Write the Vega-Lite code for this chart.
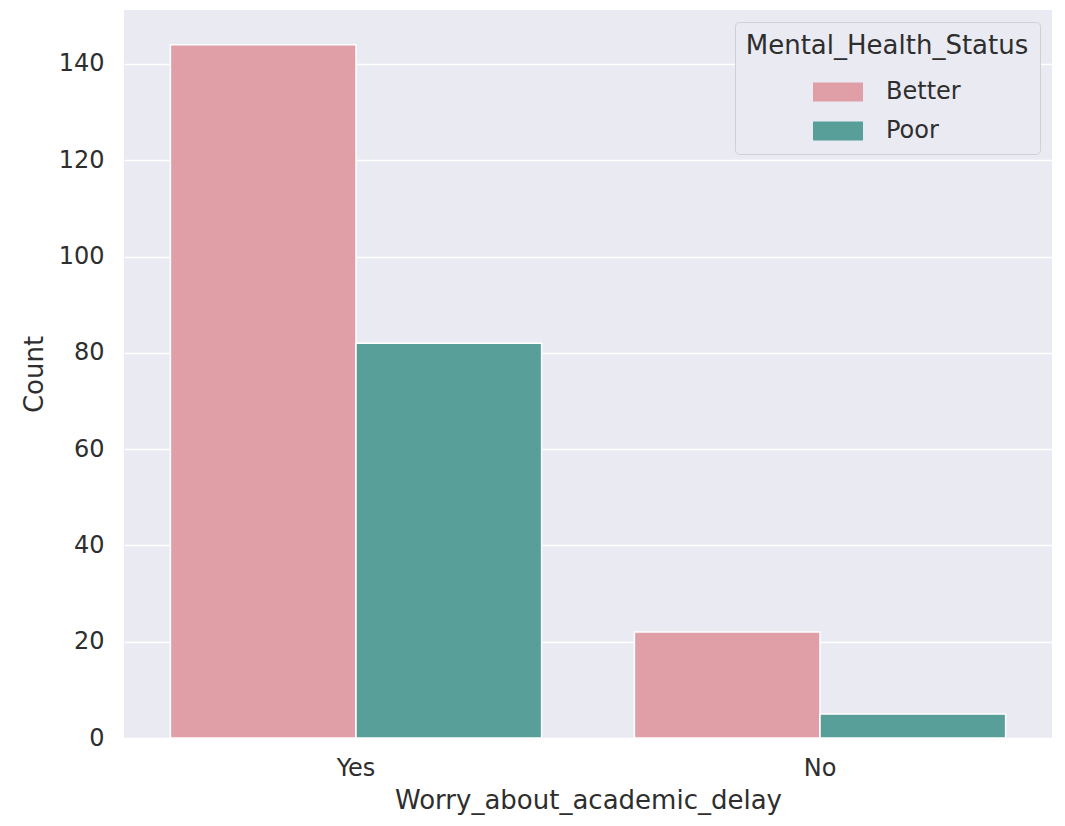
{
  "$schema": "https://vega.github.io/schema/vega-lite/v6.json",
  "width": 928,
  "height": 728,
  "autosize": {"type": "none"},
  "padding": {"left": 124, "top": 10, "right": 13, "bottom": 88},
  "background": "white",
  "config": {
    "font": "DejaVu Sans",
    "view": {"fill": "#EAEAF2", "stroke": null},
    "axis": {"domain": false, "ticks": false, "gridColor": "white", "gridWidth": 1.5, "labelColor": "#2E2E2E", "titleColor": "#2E2E2E", "labelFont": "DejaVu Sans", "titleFont": "DejaVu Sans", "titleFontWeight": "normal", "labelFontSize": 24, "titleFontSize": 26}
  },
  "data": {
    "values": [
      {"worry": "Yes", "status": "Better", "count": 144},
      {"worry": "Yes", "status": "Poor", "count": 82},
      {"worry": "No", "status": "Better", "count": 22},
      {"worry": "No", "status": "Poor", "count": 5}
    ]
  },
  "mark": {"type": "bar", "stroke": "white", "strokeWidth": 1.5},
  "encoding": {
    "x": {
      "field": "worry", "type": "nominal", "sort": ["Yes", "No"],
      "scale": {"paddingInner": 0.2, "paddingOuter": 0.1},
      "axis": {"title": "Worry_about_academic_delay", "labelAngle": 0, "labelPadding": 18, "titlePadding": 7, "grid": false}
    },
    "xOffset": {"field": "status", "type": "nominal", "sort": ["Better", "Poor"], "scale": {"paddingInner": 0, "paddingOuter": 0}},
    "y": {
      "field": "count", "type": "quantitative",
      "scale": {"domain": [0, 151.2], "nice": false},
      "axis": {"title": "Count", "values": [0, 20, 40, 60, 80, 100, 120, 140], "labelPadding": 20, "titlePadding": 11}
    },
    "color": {
      "field": "status", "type": "nominal", "sort": ["Better", "Poor"],
      "scale": {"domain": ["Better", "Poor"], "range": ["#E09EA7", "#589F99"]},
      "legend": {
        "title": "Mental_Health_Status",
        "orient": "top-right",
        "offset": 12,
        "fillColor": "#EAEAF2",
        "strokeColor": "#CFCFD6",
        "cornerRadius": 4,
        "padding": 11,
        "titleLimit": 500,
        "titleFontSize": 26,
        "titleFontWeight": "normal",
        "titleColor": "#2E2E2E",
        "labelFontSize": 24,
        "labelColor": "#2E2E2E",
        "labelOffset": 23,
        "rowPadding": 2,
        "titlePadding": 8,
        "titleAnchor": "middle",
        "symbolType": "M-1,-0.38H1V0.38H-1Z",
        "symbolSize": 2500,
        "symbolStrokeWidth": 0,
        "symbolOffset": 0
      }
    }
  }
}
